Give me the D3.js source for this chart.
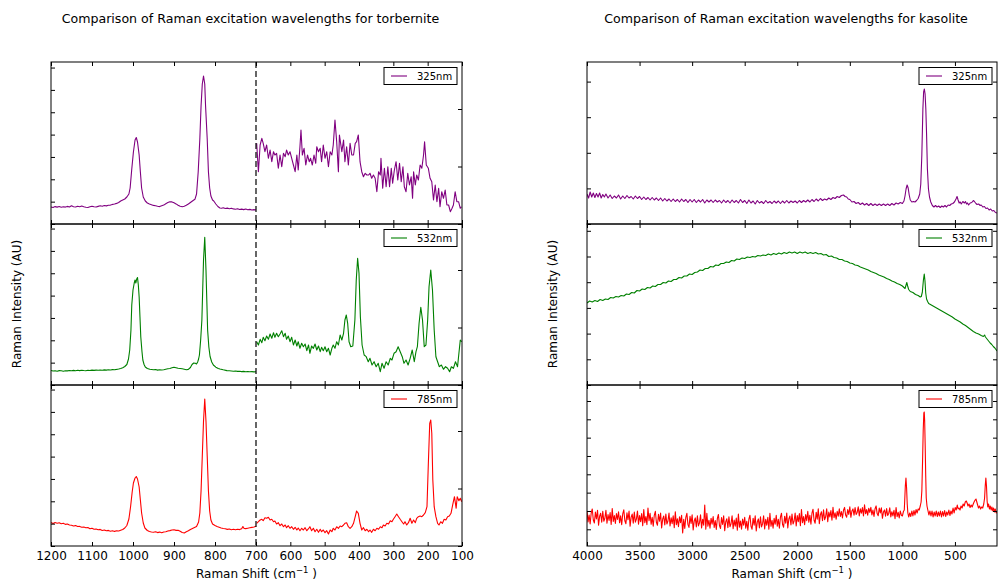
<!DOCTYPE html>
<html><head><meta charset="utf-8">
<script src="https://cdn.jsdelivr.net/npm/d3@7"></script>
<style>
body{margin:0;background:#fff}
svg{display:block}
text{font-family:"DejaVu Sans",sans-serif;fill:#000}
</style>
</head><body>
<svg id="c" width="998" height="582"></svg>
<script>
// ---------------- DATA ----------------
const lasers = ["325nm", "532nm", "785nm"];
const laserColors = ["#800080", "#008000", "#ff0000"];
const torbTicks = [1200, 1100, 1000, 900, 800, 700, 600, 500, 400, 300, 200, 100];
const kasTicks = [4000, 3500, 3000, 2500, 2000, 1500, 1000, 500];
const titles = ["Comparison of Raman excitation wavelengths for torbernite",
                "Comparison of Raman excitation wavelengths for kasolite"];

// torbernite, 1200-700 cm-1 (left axis), intensity AU
const torbL325 = [[1200,17],[1195,16.5],[1190,17.4],[1185,16.9],[1180,17.5],[1175,16.8],[1170,17.3],[1165,16.9],[1160,17.6],[1155,17],[1150,18.3],[1145,17.3],[1140,17],[1135,17.7],[1130,17.2],[1125,17.9],[1120,17.2],[1115,16.8],[1110,16.5],[1105,17.3],[1100,17.8],[1095,17.3],[1090,17],[1085,17.6],[1080,18.2],[1075,17.8],[1070,18.5],[1065,18.1],[1060,18.7],[1055,18.9],[1050,19.6],[1045,20],[1040,20.6],[1035,21.5],[1030,23],[1025,24],[1020,25],[1015,27],[1010,30],[1007,36],[1003,55],[999,72],[995,84],[992,86.5],[989,82],[985,69],[982,52],[979,36],[975,27],[970,23],[965,21],[960,20],[955,19.3],[950,18.6],[945,18.3],[940,17.8],[935,17.4],[930,18.2],[925,18.9],[920,20.3],[915,21.4],[910,22.3],[905,22.1],[900,21.2],[895,20.1],[890,18.7],[885,17.7],[880,17.2],[875,17.8],[870,18.7],[865,20],[860,21.5],[855,23],[849,24.7],[845,30],[841,52],[837,85],[834,118],[831,140],[828,148],[825,140],[823,118],[819,85],[816,52],[813,36],[810,28],[806,24],[803,23],[798,20],[793,17.5],[788,16],[784,15.8],[780,16.3],[775,15.5],[770,15.9],[765,15.3],[760,15.8],[755,15.1],[750,14.8],[745,15.3],[740,14.5],[735,14.9],[730,14.4],[725,15],[720,14.2],[715,14.6],[710,14],[705,14.4],[700,14]];
const torbL532 = [[1200,14.5],[1195,14],[1190,14.3],[1185,13.8],[1180,14.4],[1175,14.2],[1170,13.7],[1165,14.3],[1160,14.1],[1155,14.5],[1150,14.2],[1145,14.6],[1140,14.3],[1135,14.7],[1130,14.4],[1125,14.8],[1120,14.5],[1115,14.3],[1110,14.7],[1105,14.5],[1100,14.9],[1095,14.6],[1090,14.9],[1085,14.7],[1080,15],[1075,14.8],[1070,15.1],[1065,14.9],[1060,15.2],[1055,15],[1050,15.4],[1045,15.3],[1040,15.6],[1035,16],[1030,16.5],[1025,17.3],[1020,18.5],[1015,20.5],[1011,26],[1008,35],[1005,55],[1003,80],[1000,95],[997,102],[995,105],[993,102],[991,106],[989,107.5],[987,100],[985,88],[983,68],[981,48],[978,33],[976,25],[973,20.5],[970,18],[965,16.5],[959,15.7],[950,15.2],[945,15.5],[940,14.9],[935,15.3],[930,15],[925,15.2],[920,15.8],[915,16.2],[910,16.5],[905,17.2],[900,17.7],[895,17.3],[890,16.8],[885,16.5],[880,16.2],[875,15.8],[870,15.3],[865,15.6],[860,17.5],[856,20.5],[852,22],[848,21.8],[845,21],[842,23.3],[840,26],[838,30],[835,45],[832,65],[830,95],[828,125],[825,147.7],[822,115],[820,85],[818,55],[815,38],[812,28.5],[808,23],[804,20],[798,17.8],[792,16.5],[788,16],[780,15.2],[771,14.4],[765,14.2],[760,14],[755,13.8],[750,14],[745,13.6],[740,13.8],[735,13.4],[730,13.6],[725,13.2],[720,13.5],[715,13.2],[710,13.4],[705,13.1],[700,13.3]];
const torbL785 = [[1200,23.5],[1195,22.5],[1190,23.5],[1185,22.8],[1180,23.3],[1175,22.3],[1170,22.8],[1165,21.6],[1160,22],[1155,21],[1150,20.8],[1145,20],[1140,20.4],[1135,19.5],[1130,19.6],[1125,18.8],[1120,19],[1115,18.2],[1110,18.5],[1105,17.3],[1100,17.8],[1095,16.8],[1090,17],[1085,16.2],[1080,16.6],[1075,15.5],[1070,16],[1065,15.2],[1060,15.6],[1055,14.8],[1050,15.3],[1045,14.6],[1040,15.2],[1035,15],[1030,15.8],[1025,16.5],[1020,18],[1015,20.5],[1010,27],[1006,39],[1002,54],[999,63],[995,68],[992,69.5],[989,67],[985,59],[982,46],[979,33],[975,23],[971,18],[965,15.5],[960,14.5],[955,14],[950,13.8],[945,14.3],[940,13.4],[935,13.9],[930,13.2],[925,14],[920,14.3],[915,15],[910,15.4],[905,16],[900,16.2],[895,15.6],[890,15.8],[885,14.8],[880,13.5],[875,13],[870,14.2],[865,15.2],[860,16.5],[855,17.5],[850,18.5],[845,19.5],[840,24],[837,33],[834,55],[831,90],[828,125],[825,147],[822,125],[819,90],[816,55],[813,35],[810,26],[806,22],[800,20.5],[795,19.5],[790,18.8],[785,18],[780,17.5],[775,17.2],[770,16.6],[765,17],[760,16.3],[755,16.8],[750,16.2],[745,16.8],[740,16.4],[735,17.2],[732,19.5],[729,17.5],[725,17.4],[720,17.8],[715,18.2],[710,18.6],[705,19],[700,19.8]];

// torbernite, 700-100 cm-1 (right axis), intensity AU
const torbR325 = [[698,80.7],[693,52.3],[688,79],[683,85.7],[679,80.7],[674,72.3],[669,79],[664,65.7],[659,74],[654,62.3],[649,72.3],[645,69],[640,70.7],[635,55.7],[630,69],[625,57.3],[620,70.7],[615,67.3],[611,74],[606,69],[601,72.3],[596,65.7],[591,59],[586,52.3],[581,69],[577,54],[572,77.3],[569,94],[565,69],[560,75.7],[555,59],[550,69],[545,62.3],[541,65.7],[536,59],[531,69],[526,60.7],[523,77.3],[518,72.3],[513,75.7],[509,62.3],[504,79],[499,65.7],[494,72.3],[489,57.3],[484,72.3],[479,69],[475,79],[470,104],[465,82.3],[460,52.3],[457,89],[450,72.3],[445,84],[441,62.3],[436,77.3],[431,59],[426,80.7],[421,69],[416,69],[411,80.7],[407,82.3],[402,89],[397,62.3],[392,52.3],[387,47.3],[382,50.7],[377,49],[372,49],[368,50.7],[363,45.7],[358,49],[353,45.7],[348,32.3],[343,52.3],[338,49],[336,65.7],[331,35.7],[326,55.7],[321,37.3],[316,57.3],[311,37.3],[306,55.7],[302,40.7],[297,54],[292,62.3],[287,44],[282,60.7],[277,42.3],[272,57.3],[268,37.3],[263,32.3],[258,50.7],[253,39],[248,47.3],[244,25.7],[241,52.3],[236,39],[232,49],[227,44],[222,59],[217,55.7],[212,69],[209,82.3],[204,59],[198,55.7],[193,45.7],[188,42.3],[183,24],[178,39],[173,22.3],[168,35.7],[164,17.3],[159,32.3],[154,25.7],[149,34],[144,19],[139,19],[134,12.3],[129,15.7],[125,19],[120,32.3],[115,22.3],[110,22.3],[105,15.7],[102,17.3]];
const torbR532 = [[698,43.3],[693,40],[688,45.7],[683,42.3],[679,47.7],[674,44.3],[669,49],[664,45.7],[659,51],[654,46.7],[649,52.3],[645,47.7],[640,51.7],[635,48.3],[630,51],[625,54.3],[620,48.3],[615,51.7],[611,45.7],[606,49],[601,43.3],[596,47.7],[591,40],[586,45],[581,39],[577,43.3],[572,36.7],[567,41.7],[562,38.3],[557,41],[552,34.3],[547,40],[543,31.7],[538,39],[533,36.7],[528,41],[523,35],[518,39],[513,33.3],[509,37.7],[504,34.3],[499,38.3],[494,33.3],[489,36.7],[484,30],[479,36.7],[475,40],[470,36.7],[465,43.3],[460,40],[455,50],[450,45],[445,51.7],[441,65],[437,70],[433,61.7],[429,43.3],[424,38.3],[418,39],[412,65],[408,105],[404,126.7],[400,111.7],[396,68.3],[391,40],[385,30],[379,28.3],[373,23.3],[368,26.7],[362,20],[356,23.3],[350,18.3],[344,21.7],[338,13.3],[333,21.7],[327,16.7],[321,23.3],[315,20],[309,26.7],[304,25],[298,31.7],[292,33.3],[286,38.3],[280,33.3],[274,28.3],[269,21.7],[263,25],[257,20],[251,26.7],[245,35],[239,23.3],[234,33.3],[230,38.3],[225,61.7],[220,77.7],[215,65],[210,38.3],[205,40],[200,65],[196,98.3],[191,115],[186,95],[181,55],[176,28.3],[171,23.3],[166,18.3],[160,20],[154,15.7],[148,18.3],[142,16.7],[136,13.3],[131,18.3],[125,16.7],[119,23.3],[113,18.3],[109,31.7],[105,45],[101,43.3]];
const torbR785 = [[698,22.7],[693,24.3],[688,26],[683,26.7],[679,25.3],[674,28.3],[669,27.7],[664,28.7],[659,26],[654,26.7],[649,24.3],[645,25],[640,22],[635,23.3],[630,20.3],[625,22],[620,19.3],[615,21],[611,18.3],[606,20.3],[601,17.7],[596,19.3],[591,16.7],[586,18.7],[581,16],[577,18],[572,15.3],[567,17.7],[562,16],[557,18.3],[552,15.3],[547,17.3],[543,19.3],[538,15.3],[533,17.7],[528,14.3],[523,16.7],[518,13.7],[513,16.7],[509,14.3],[504,16],[499,13.3],[494,15.3],[489,12],[484,16],[479,14.3],[475,17.7],[470,16],[465,19.3],[460,17.7],[455,20],[450,19.3],[445,21],[441,22.7],[436,23.3],[431,19.3],[426,17.7],[421,19.3],[416,22.7],[411,29.3],[407,35],[402,32.7],[397,22.7],[392,16],[387,18.3],[382,15.3],[377,16.7],[372,14.3],[368,16],[363,13.7],[358,16.7],[353,15.3],[348,17.7],[343,16.7],[338,19.3],[333,18.3],[329,21],[324,20],[319,22.7],[314,22],[309,25.3],[304,24.3],[300,26.7],[295,29.3],[290,32],[285,29.3],[280,26.7],[275,24.3],[270,22],[266,24.3],[261,21],[256,23.3],[251,27.7],[246,22.7],[241,26],[236,23.3],[232,27.7],[227,29.3],[222,30],[217,29.3],[212,31],[207,33.3],[202,39.3],[198,82.7],[194,122.7],[191,126],[188,112.7],[185,66],[181,39.3],[176,29.3],[171,22.7],[167,21],[162,24.3],[157,22.7],[152,26.7],[147,26],[142,29.3],[137,30],[132,32.7],[127,41.3],[122,49.3],[117,37.7],[114,49.3],[109,45.3],[105,47.7],[101,44.3]];

// kasolite, 4000-100 cm-1, intensity AU
const kas325 = [[4000,30],[3985,26],[3970,32],[3955,27],[3940,31],[3925,26.5],[3910,30.5],[3895,27],[3880,31],[3865,26],[3850,29.5],[3835,27],[3820,30],[3800,26],[3780,29],[3760,25.5],[3740,28],[3720,26],[3700,29],[3680,25],[3660,28],[3640,25.5],[3620,28.5],[3600,26],[3580,27.5],[3560,25],[3540,28],[3520,25.5],[3500,27.5],[3480,24.5],[3460,27],[3440,24.5],[3420,26.5],[3400,24],[3380,26.5],[3360,24],[3340,26],[3320,23.5],[3300,26],[3280,23],[3260,25.5],[3240,23],[3220,25],[3200,22.5],[3180,25],[3160,22.5],[3140,24.5],[3120,22],[3100,25],[3080,22.5],[3060,24.5],[3040,21.5],[3020,24.5],[3000,22],[2980,24.5],[2960,21.5],[2940,24],[2920,22],[2900,24.5],[2880,21],[2860,24],[2840,22],[2820,24],[2800,21.5],[2780,24],[2760,22],[2740,23.5],[2720,21],[2700,24],[2680,21.5],[2660,23.5],[2640,21],[2620,24],[2600,21.5],[2580,23.5],[2560,21],[2540,24.5],[2520,21.5],[2500,23.5],[2480,20.5],[2460,24],[2440,21],[2420,23],[2400,20],[2380,23.5],[2360,21],[2340,22.5],[2320,20.5],[2300,23.5],[2280,21],[2260,22.5],[2240,20.5],[2220,23],[2200,21],[2180,23],[2160,20.5],[2140,23],[2120,21],[2100,23.5],[2080,21],[2060,23],[2040,21.5],[2020,23],[2000,21],[1980,23.5],[1960,21.5],[1940,23.5],[1920,22],[1900,24],[1880,22],[1860,24.5],[1840,22.5],[1820,25],[1800,23],[1780,25.5],[1760,23.5],[1740,25],[1720,24],[1700,26],[1680,24.5],[1660,26.5],[1640,25.5],[1620,27.5],[1600,26.5],[1580,28.5],[1560,29],[1545,27.5],[1530,27],[1515,25],[1500,24.5],[1480,22],[1460,22.5],[1440,20.5],[1420,21.5],[1400,19.5],[1380,21],[1360,19],[1340,20.5],[1320,18.5],[1300,20.5],[1280,18.5],[1260,20],[1240,18.5],[1220,20],[1200,18.5],[1180,20],[1160,18.5],[1140,20],[1120,18.5],[1100,20.5],[1080,19],[1060,21],[1040,20],[1020,21.5],[1000,20.5],[985,23],[975,28],[965,35],[955,39],[945,36],[935,29],[925,24],[910,22],[895,22.5],[880,22],[865,23.5],[850,25.5],[835,30],[825,40],[815,69],[805,115],[798,132],[791,135],[784,130],[777,115],[770,90],[762,55],[752,35],[742,27],[730,22],[715,18.5],[700,17],[685,18.5],[670,17],[655,18],[640,16.5],[625,18],[610,17],[595,18.5],[580,17],[565,19],[550,18.5],[535,20],[520,20.5],[505,22],[490,25],[480,27.5],[470,24],[460,21],[450,22],[440,20],[425,22.5],[410,21],[400,22.5],[390,20],[380,21],[370,19],[355,21],[340,21.5],[325,23.5],[315,22.5],[300,20.5],[290,19.5],[275,20],[260,18.5],[250,19],[235,17],[220,17.5],[205,15.5],[190,16],[175,14],[160,15],[145,13],[130,13.5],[115,11.5],[100,11]];
const kas532 = [[4000,82],[3975,84],[3950,83],[3925,84.5],[3900,83.5],[3875,85.5],[3850,84.5],[3825,86],[3800,85.5],[3775,87.5],[3750,87],[3725,88.5],[3700,88],[3675,89.5],[3650,89],[3625,91],[3600,90.5],[3575,92.5],[3550,92],[3525,94.5],[3500,94],[3475,96],[3450,95.5],[3425,97.5],[3400,97],[3375,99],[3350,98.5],[3325,100.5],[3300,100.5],[3275,102.5],[3250,102],[3225,104],[3200,103.5],[3175,105.5],[3150,105.5],[3125,107.5],[3100,107],[3075,109],[3050,109],[3025,111],[3000,110.5],[2975,112.5],[2950,113],[2925,115],[2900,114.5],[2875,116.5],[2850,116.5],[2825,118.5],[2800,118],[2775,120],[2750,119.5],[2725,121.5],[2700,121.5],[2675,123],[2650,122.5],[2625,124.5],[2600,124],[2575,126],[2550,125.5],[2525,127],[2500,126.5],[2475,128],[2450,127.5],[2425,128.5],[2400,128],[2375,129.5],[2350,129],[2325,130],[2300,129.5],[2275,131],[2250,130],[2225,131.5],[2200,130.5],[2175,132],[2150,131],[2125,132.5],[2100,131.5],[2075,133],[2050,132],[2025,133],[2000,131.5],[1975,133],[1950,132],[1925,133],[1900,131.5],[1875,132.5],[1850,131.5],[1825,132.5],[1800,131],[1775,131.5],[1750,130],[1725,130.5],[1700,128.5],[1675,129],[1650,127.5],[1625,127],[1600,125.5],[1575,125.5],[1550,124],[1525,123.5],[1500,122],[1475,121.5],[1450,120],[1425,119.5],[1400,118],[1375,117],[1350,116],[1325,115],[1300,113.5],[1275,112.5],[1250,111.5],[1225,110],[1200,109],[1175,108],[1150,106.5],[1125,105.5],[1100,104],[1075,103],[1050,101.5],[1025,100.5],[1000,99],[985,97.5],[975,96.5],[965,100],[958,102.5],[950,99],[940,95.5],[925,93.5],[900,92.5],[875,90.5],[850,89.5],[830,88],[820,88.5],[810,93],[800,105],[792,111],[785,104],[778,92],[770,86],[760,83.5],[750,81.5],[725,80],[700,78.5],[675,77],[650,75.5],[625,74],[600,72.5],[575,71],[550,69.5],[525,68],[500,66],[475,64.5],[450,63],[425,61],[400,59.5],[375,57.5],[350,55.5],[325,53.5],[300,52],[275,51],[250,49.5],[230,48.5],[218,50],[210,48],[195,46],[180,44],[165,42],[150,40.5],[135,38.5],[120,37],[100,34]];
const kas785 = [[4000,35],[3990,24],[3980,31],[3970,22],[3960,33],[3950,37],[3940,26],[3930,23],[3920,34],[3910,27],
[3900,35.8],[3890,20.8],[3880,29.8],[3870,32.8],[3860,23.8],[3850,34.8],[3840,24.8],[3830,27.8],[3820,35.8],[3810,22.8],
[3800,31.5],[3790,25.5],[3780,33.5],[3770,21.5],[3760,37.5],[3750,24.5],[3740,30.5],[3730,22.5],[3720,32.5],[3710,26.5],
[3700,34.2],[3690,23.2],[3680,30.2],[3670,21.2],[3660,32.2],[3650,36.2],[3640,25.2],[3630,22.2],[3620,33.2],[3610,26.2],
[3600,34.9],[3590,19.9],[3580,28.9],[3570,31.9],[3560,22.9],[3550,33.9],[3540,23.9],[3530,26.9],[3520,34.9],[3510,21.9],
[3500,30.4],[3490,24.4],[3480,32.4],[3470,20.4],[3460,36.4],[3450,23.4],[3440,29.4],[3430,21.4],[3420,38],[3410,25.4],
[3400,32.7],[3390,21.7],[3380,28.7],[3370,19.7],[3360,30.7],[3350,34.7],[3340,23.7],[3330,20.7],[3320,31.7],[3310,24.7],
[3300,33],[3290,18],[3280,27],[3270,30],[3260,21],[3250,32],[3240,22],[3230,25],[3220,33],[3210,20],
[3200,28.3],[3190,22.3],[3180,30.3],[3170,18.3],[3160,34.3],[3150,21.3],[3140,27.3],[3130,19.3],[3120,29.3],[3110,23.3],
[3100,30.6],[3090,13],[3080,26.6],[3070,17.6],[3060,28.6],[3050,32.6],[3040,21.6],[3030,18.6],[3020,29.6],[3010,22.6],
[3000,31.1],[2990,16.1],[2980,25.1],[2970,28.1],[2960,19.1],[2950,30.1],[2940,20.1],[2930,23.1],[2920,31.1],[2910,18.1],
[2900,26.8],[2890,20.8],[2880,41],[2870,16.8],[2860,32.8],[2850,19.8],[2840,25.8],[2830,17.8],[2820,27.8],[2810,21.8],
[2800,29.5],[2790,18.5],[2780,25.5],[2770,16.5],[2760,27.5],[2750,31.5],[2740,20.5],[2730,17.5],[2720,28.5],[2710,21.5],
[2700,30.2],[2690,15.2],[2680,24.2],[2670,27.2],[2660,18.2],[2650,29.2],[2640,19.2],[2630,22.2],[2620,30.2],[2610,17.2],
[2600,25.9],[2590,19.9],[2580,27.9],[2570,15.9],[2560,31.9],[2550,18.9],[2540,24.9],[2530,16.9],[2520,26.9],[2510,20.9],
[2500,28.8],[2490,17.8],[2480,24.8],[2470,15.8],[2460,26.8],[2450,30.8],[2440,19.8],[2430,16.8],[2420,27.8],[2410,20.8],
[2400,30.1],[2390,15.1],[2380,24.1],[2370,27.1],[2360,18.1],[2350,29.1],[2340,19.1],[2330,22.1],[2320,30.1],[2310,17.1],
[2300,26.7],[2290,20.7],[2280,28.7],[2270,16.7],[2260,32.7],[2250,19.7],[2240,25.7],[2230,17.7],[2220,27.7],[2210,21.7],
[2200,30.8],[2190,19.8],[2180,26.8],[2170,17.8],[2160,28.8],[2150,32.8],[2140,21.8],[2130,18.8],[2120,29.8],[2110,22.8],
[2100,33],[2090,18],[2080,27],[2070,30],[2060,21],[2050,32],[2040,22],[2030,25],[2020,33],[2010,20],
[2000,30.4],[1990,24.4],[1980,32.4],[1970,20.4],[1960,36.4],[1950,23.4],[1940,29.4],[1930,21.4],[1920,31.4],[1910,25.4],
[1900,34.8],[1890,23.8],[1880,30.8],[1870,21.8],[1860,32.8],[1850,36.8],[1840,25.8],[1830,22.8],[1820,33.8],[1810,26.8],
[1800,37.2],[1790,22.2],[1780,31.2],[1770,34.2],[1760,25.2],[1750,36.2],[1740,26.2],[1730,29.2],[1720,37.2],[1710,24.2],
[1700,33.9],[1690,29.1],[1680,35.5],[1670,25.9],[1660,38.7],[1650,28.3],[1640,33.1],[1630,26.7],[1620,34.7],[1610,29.9],
[1600,37.2],[1590,29.5],[1580,34.4],[1570,28.1],[1560,35.8],[1550,38.6],[1540,30.9],[1530,28.8],[1520,36.5],[1510,31.6],
[1500,39.2],[1490,28.7],[1480,35],[1470,37.1],[1460,30.8],[1450,38.5],[1440,31.5],[1430,33.6],[1420,39.2],[1410,30.1],
[1400,37.1],[1390,32.9],[1380,38.5],[1370,30.1],[1360,41.3],[1350,32.2],[1340,36.4],[1330,30.8],[1320,37.8],[1310,33.6],
[1300,38.7],[1290,31],[1280,35.9],[1270,29.6],[1260,37.3],[1250,40.1],[1240,32.4],[1230,30.3],[1220,38],[1210,33.1],
[1200,38.2],[1190,27.7],[1180,34],[1170,36.1],[1160,29.8],[1150,37.5],[1140,30.5],[1130,32.6],[1120,38.2],[1110,29.1],
[1100,34.3],[1090,30.1],[1080,35.7],[1070,27.3],[1060,38.5],[1050,29.4],[1040,33.6],[1030,28],[1020,35],[1010,30.8],
[1000,30],[990,34.5],[982,36],[978,45],[972,60],[966,68],[960,58],[954,42],[948,33],[940,29],[930,33],[920,29.5],[910,35],[900,30],[890,35.5],[880,31],[870,36.5],[860,33],[850,37],[840,36],[830,40],[822,44],[815,55],[808,85],[802,115],[796,133],[792,134],[788,125],[783,100],[778,70],[773,48],[766,40],[758,36],[748,31],[738,35],[728,30],[718,35],[708,29],[698,34],[688,30],[678,35],[668,29.5],[658,34],[648,30],[638,35],[628,29],[618,34.5],[608,30],[598,35.5],[588,29.5],[578,34],[568,31],[558,36],[548,30.5],[538,35],[528,32],[518,38],[508,33],[498,38.5],[488,36],[478,41],[470,37],[462,38],[452,36],[442,40],[432,38],[422,42],[412,40],[402,44],[392,45],[384,43],[376,40],[366,42],[356,38.5],[346,41],[336,39],[326,42],[318,44],[308,46],[300,47],[292,44],[284,41],[276,38],[266,40],[256,37],[246,39],[236,38],[226,42],[218,48],[212,60],[206,68],[200,60],[194,45],[188,39],[180,42],[172,37],[164,40],[156,36],[148,39],[140,35],[132,38],[124,34],[116,37],[108,33],[100,35]];

const torbLeftSeries = [torbL325, torbL532, torbL785];
const torbRightSeries = [torbR325, torbR532, torbR785];
const kasSeries = [kas325, kas532, kas785];

// ---------------- LAYOUT ----------------
const rowEdges = [62, 224, 385, 546];
const torbLeftTickStep = 22.35;   // AU per tick, left axis
const torbRightTickStep = 57.5;   // AU per tick, twin (right) axis
const kasTickCfg = [{start: 0, step: 35.6}, {start: 0, step: 25.7}, {start: 16.7, step: 18.33}];

const svg = d3.select("#c");
const torbX = d3.scaleLinear().domain([1200, 700, 100]).range([51, 256, 462]);
const kasX = d3.scaleLinear().domain([4000, 100]).range([587, 997]);
const TICK = 4;

function ticksFrom(start, step, max) { return d3.range(start, max + 0.01, step); }

function styleAxis(g) {
  g.select(".domain").remove();
  g.selectAll(".tick line").attr("stroke", "#000").attr("stroke-width", 1);
}

function drawRow(x, xTicks, i, series, twinSeries, leftTicks, rightTicks, id) {
  const top = rowEdges[i], bottom = rowEdges[i + 1];
  const h = bottom - top;
  const y = d3.scaleLinear().domain([0, h]).range([bottom, top]);
  const [x0, x1] = [x.range()[0], x.range()[x.range().length - 1]];
  const g = svg.append("g");
  g.append("clipPath").attr("id", id).append("rect")
    .attr("x", x0).attr("y", top).attr("width", x1 - x0).attr("height", h);
  const line = d3.line().x(d => x(d[0])).y(d => y(d[1]));
  const lg = g.append("g").attr("clip-path", `url(#${id})`);
  lg.append("path").datum(series).attr("d", line)
    .attr("fill", "none").attr("stroke", laserColors[i]).attr("stroke-width", 1.1).attr("stroke-linejoin", "round");
  if (twinSeries) {
    lg.append("path").datum(twinSeries).attr("d", line)
      .attr("fill", "none").attr("stroke", laserColors[i]).attr("stroke-width", 1.1).attr("stroke-linejoin", "round");
  }
  // ticks
  g.append("g").attr("transform", `translate(0,${bottom})`)
    .call(d3.axisTop(x).tickValues(xTicks).tickSize(TICK).tickFormat("")).call(styleAxis);
  g.append("g").attr("transform", `translate(0,${top})`)
    .call(d3.axisBottom(x).tickValues(xTicks).tickSize(TICK).tickFormat("")).call(styleAxis);
  g.append("g").attr("transform", `translate(${x0},0)`)
    .call(d3.axisRight(y).tickValues(leftTicks).tickSize(TICK).tickFormat("")).call(styleAxis);
  g.append("g").attr("transform", `translate(${x1},0)`)
    .call(d3.axisLeft(y).tickValues(rightTicks).tickSize(TICK).tickFormat("")).call(styleAxis);
  // frame
  g.append("rect").attr("x", x0).attr("y", top).attr("width", x1 - x0).attr("height", h)
    .attr("fill", "none").attr("stroke", "#000").attr("stroke-width", 1);
  // legend
  const lw = 73, lh = 17, lx = x1 - 5 - lw, ly = top + 5.5;
  const leg = g.append("g");
  leg.append("rect").attr("x", lx).attr("y", ly).attr("width", lw).attr("height", lh)
    .attr("fill", "#fff").attr("stroke", "#000").attr("stroke-width", 1);
  leg.append("line").attr("x1", lx + 7).attr("x2", lx + 23).attr("y1", ly + lh / 2).attr("y2", ly + lh / 2)
    .attr("stroke", laserColors[i]).attr("stroke-width", 1.1);
  leg.append("text").attr("x", lx + 33).attr("y", ly + lh / 2 + 3.6)
    .attr("font-size", 10).text(lasers[i]);
  // bottom labels
  if (i === 2) {
    const ax = g.append("g").attr("transform", `translate(0,${bottom})`)
      .call(d3.axisBottom(x).tickValues(xTicks).tickSize(0).tickPadding(5).tickFormat(d3.format("d")));
    ax.select(".domain").remove();
    ax.selectAll("text").attr("font-size", 12).attr("font-family", "DejaVu Sans");
  }
}

// torbernite panel
for (let i = 0; i < 3; i++) {
  const h = rowEdges[i + 1] - rowEdges[i];
  drawRow(torbX, torbTicks, i, torbLeftSeries[i], torbRightSeries[i],
    ticksFrom(0, torbLeftTickStep, h), ticksFrom(0, torbRightTickStep, h), "ct" + i);
}
// dashed divider at 700 cm-1
svg.append("line").attr("x1", torbX(700)).attr("x2", torbX(700))
  .attr("y1", rowEdges[0]).attr("y2", rowEdges[3])
  .attr("stroke", "#000").attr("stroke-width", 1.2).attr("stroke-dasharray", "6,3");

// kasolite panel
for (let i = 0; i < 3; i++) {
  const h = rowEdges[i + 1] - rowEdges[i];
  const t = ticksFrom(kasTickCfg[i].start, kasTickCfg[i].step, h);
  drawRow(kasX, kasTicks, i, kasSeries[i], null, t, t, "ck" + i);
}

// titles & axis labels
const panelsX = [[51, 462], [587, 997]];
titles.forEach((t, k) => {
  svg.append("text").attr("x", (panelsX[k][0] + panelsX[k][1]) / 2 - 6).attr("y", 23)
    .attr("text-anchor", "middle").attr("font-size", 12.6).text(t);
  const xl = svg.append("text").attr("x", (panelsX[k][0] + panelsX[k][1]) / 2).attr("y", 578)
    .attr("text-anchor", "middle").attr("font-size", 12);
  xl.append("tspan").text("Raman Shift (cm");
  xl.append("tspan").attr("dy", -5).attr("font-size", 8.5).text("\u22121");
  xl.append("tspan").attr("dy", 5).text(" )");
  svg.append("text").attr("transform", `translate(${panelsX[k][0] - 30},304) rotate(-90)`)
    .attr("text-anchor", "middle").attr("font-size", 12).text("Raman Intensity (AU)");
});
</script>
</body></html>
